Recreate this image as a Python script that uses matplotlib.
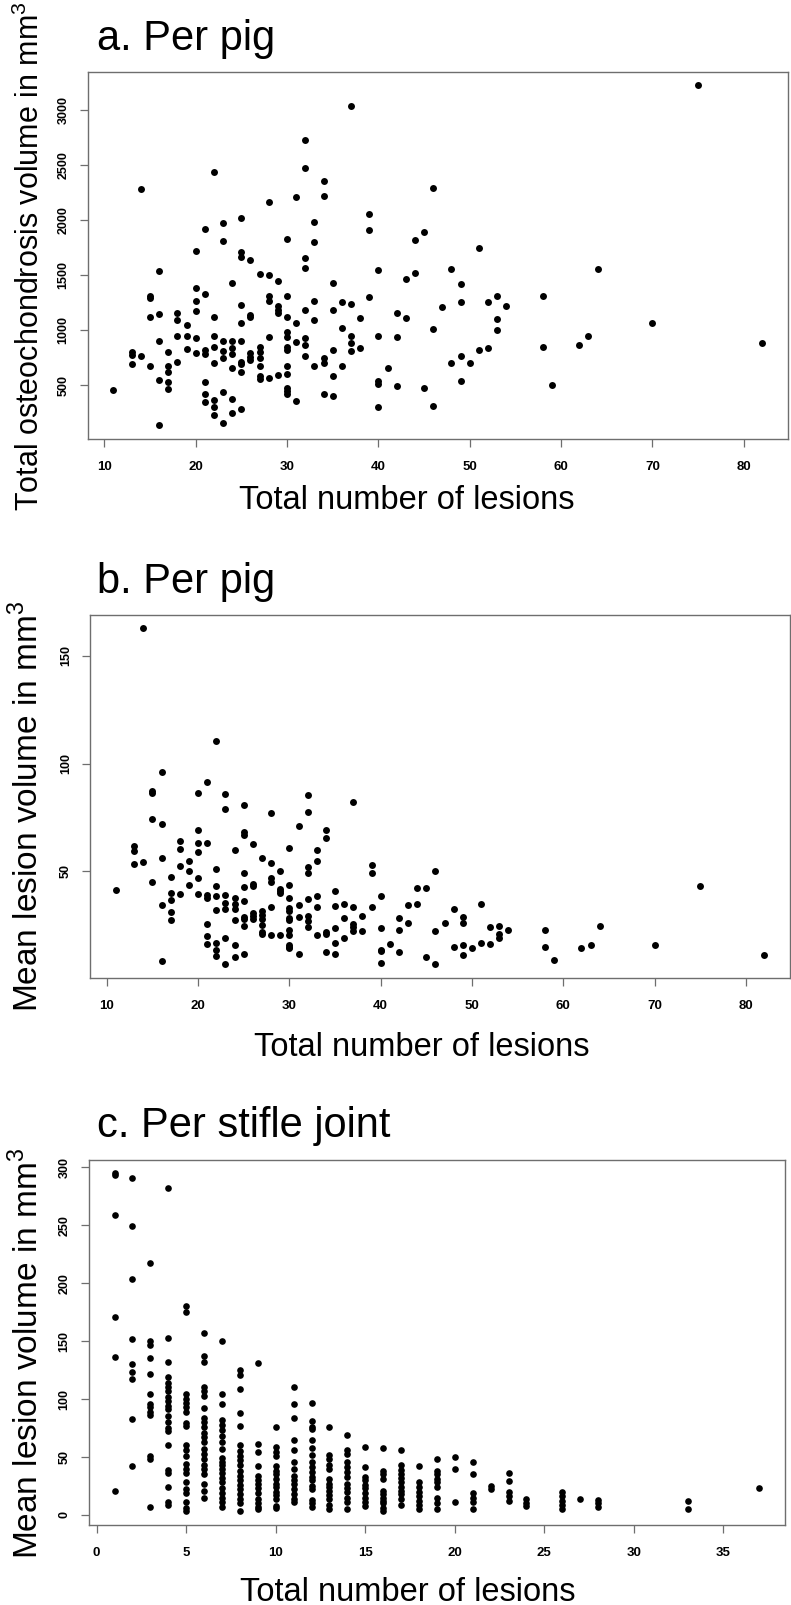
import matplotlib
matplotlib.use("Agg")
import matplotlib.pyplot as plt
import numpy as np

plt.rcParams['font.family'] = ['Liberation Sans', 'DejaVu Sans']
plt.rcParams['mathtext.fontset'] = 'custom'
plt.rcParams['mathtext.rm'] = 'Liberation Sans'

# ---------------- Panel a: per pig, total volume ----------------
a_lesions = [11, 13, 14, 15, 16, 17, 18, 19, 20, 21, 22, 23, 24, 25, 26, 27, 28, 29, 30,
             31, 32, 33, 34, 35, 36, 37, 38, 39, 40, 41, 42, 43, 44, 45, 46, 47, 48, 49,
             50, 51, 52, 53, 54, 58, 59, 62, 63, 64, 70, 75, 82]
a_total = [
    [455], [805, 771, 692], [2279, 761], [1306, 1295, 1115, 677],
    [1537, 1151, 897, 547, 134], [803, 677, 622, 530, 468], [1154, 1088, 947, 706],
    [1043, 950, 830], [1724, 1381, 1262, 1178, 932, 788],
    [1921, 1327, 820, 785, 533, 416, 343], [2436, 1124, 948, 850, 700, 369, 298, 231],
    [1972, 1815, 899, 812, 750, 436, 154], [1430, 902, 834, 780, 653, 372, 245],
    [2018, 1709, 1668, 1230, 1064, 898, 714, 690, 616, 284],
    [1634, 1141, 1120, 794, 754, 726], [1513, 847, 801, 751, 672, 580, 559],
    [2162, 1500, 1312, 1263, 934, 567], [1451, 1215, 1182, 1154, 590],
    [1827, 1312, 1124, 981, 942, 845, 818, 678, 605, 472, 448, 423],
    [2207, 1063, 894, 353], [2732, 2472, 1656, 1566, 1180, 933, 861, 765],
    [1979, 1800, 1266, 1093, 674], [2353, 2216, 746, 703, 419],
    [1433, 1181, 820, 580, 401], [1255, 1021, 674], [3035, 1234, 946, 879, 814],
    [1109, 837], [2055, 1908, 1298], [1545, 947, 534, 510, 298], [656],
    [1154, 935, 495], [1468, 1113], [1821, 1515], [1888, 478], [2294, 1012, 310],
    [1206], [1552, 705], [1415, 1257, 767, 537], [699], [1744, 820], [1257, 841],
    [1307, 1100, 1002], [1216], [1306, 847], [498], [867], [949], [1557], [1067],
    [3226], [880]]

# ---------------- Panel b: per pig, mean lesion volume ----------------
b_lesions = [11, 13, 14, 15, 16, 17, 18, 19, 20, 21, 22, 23, 24, 25, 26, 27, 28, 29, 30,
             31, 32, 33, 34, 35, 36, 37, 38, 39, 40, 41, 42, 43, 44, 45, 46, 47, 48, 49,
             50, 51, 52, 53, 54, 58, 59, 62, 63, 64, 70, 75, 82]
b_mean = [
    [41.4], [61.9, 59.3, 53.2], [162.8, 54.4], [87.1, 86.3, 74.3, 45.1],
    [96.1, 71.9, 56.1, 34.2, 8.4], [47.2, 39.8, 36.6, 31.2, 27.5],
    [64.1, 60.4, 52.6, 39.2], [54.9, 50.0, 43.7],
    [86.2, 69.1, 63.1, 58.9, 46.6, 39.4], [91.5, 63.2, 39.0, 37.4, 25.4, 19.8, 16.3],
    [110.7, 51.1, 43.1, 38.6, 31.8, 16.8, 13.5, 10.5],
    [85.7, 78.9, 39.1, 35.3, 32.6, 19.0, 6.7], [59.6, 37.6, 34.8, 32.5, 27.2, 15.5, 10.2],
    [80.7, 68.4, 66.7, 49.2, 42.6, 35.9, 28.6, 27.6, 24.6, 11.4],
    [62.8, 43.9, 43.1, 30.5, 29.0, 27.9], [56.0, 31.4, 29.7, 27.8, 24.9, 21.5, 20.7],
    [77.2, 53.6, 46.9, 45.1, 33.4, 20.3], [50.0, 41.9, 40.8, 39.8, 20.3],
    [60.9, 43.7, 37.5, 32.7, 31.4, 28.2, 27.3, 22.6, 20.2, 15.7, 14.9, 14.1],
    [71.2, 34.3, 28.8, 11.4], [85.4, 77.3, 51.8, 48.9, 36.9, 29.2, 26.9, 23.9],
    [60.0, 54.5, 38.4, 33.1, 20.4], [69.2, 65.2, 21.9, 20.7, 12.3],
    [40.9, 33.7, 23.4, 16.6, 11.5], [34.9, 28.4, 18.7], [82.0, 33.4, 25.6, 23.8, 22.0],
    [29.2, 22.0], [52.7, 48.9, 33.3], [38.6, 23.7, 13.4, 12.8, 7.5], [16.0],
    [28.0, 22.8, 12.3], [34.1, 25.9], [42.0, 34.6], [42.3, 10.3], [49.9, 22.0, 6.7],
    [25.7], [32.3, 14.7], [28.9, 25.7, 15.7, 11.0], [14.4], [34.5, 16.5], [24.2, 16.2],
    [24.7, 20.8, 18.9], [22.5], [22.5, 14.6], [8.6], [14.4], [15.5], [24.3], [15.6],
    [43.0], [11.1]]

# ---------------- Panel c: per stifle joint ----------------
c_lesions = [1, 2, 3, 4, 5, 6, 7, 8, 9, 10, 11, 12, 13, 14, 15, 16, 17, 18, 19, 20,
             21, 22, 23, 24, 26, 27, 28, 33, 37]
c_mean = [
    [295, 293, 259, 171, 136, 21],
    [291, 249, 204, 152, 130, 123, 117, 83, 42],
    [217, 150, 147, 135, 122, 104, 96, 93, 89, 86, 51, 48, 7],
    [282, 153, 132, 119, 114, 110, 107, 102, 98, 94, 91, 85, 80, 75, 72, 60, 39, 36, 24, 11, 9],
    [180, 175, 104, 100, 97, 93, 89, 79, 77, 60, 56, 51, 44, 40, 36, 28, 22, 19, 11, 6, 3],
    [157, 137, 132, 110, 107, 103, 92, 84, 80, 76, 71, 67, 63, 57, 53, 48, 43, 40, 35, 27, 21, 15],
    [150, 104, 96, 82, 78, 73, 68, 63, 57, 49, 46, 43, 40, 36, 32, 28, 23, 19, 15, 11, 7],
    [125, 121, 109, 88, 77, 60, 55, 51, 47, 43, 38, 34, 30, 26, 22, 18, 14, 10, 3],
    [131, 61, 54, 42, 34, 30, 27, 23, 19, 14, 10, 7, 5],
    [76, 59, 54, 51, 42, 38, 35, 31, 27, 24, 20, 17, 14, 8, 6],
    [110, 96, 84, 65, 56, 46, 40, 34, 30, 27, 22, 18, 14, 11],
    [97, 81, 76, 74, 65, 58, 52, 46, 41, 37, 33, 30, 25, 22, 13, 10, 7],
    [76, 52, 48, 43, 40, 31, 27, 24, 21, 17, 14, 9, 5],
    [69, 56, 53, 46, 41, 37, 33, 27, 23, 20, 15, 11, 5],
    [59, 41, 33, 30, 26, 23, 19, 15, 11, 8],
    [58, 38, 35, 31, 21, 18, 15, 12, 10, 6, 3],
    [56, 43, 39, 35, 32, 28, 24, 21, 18, 14, 9],
    [42, 28, 24, 20, 16, 12, 9, 5],
    [48, 38, 35, 31, 28, 24, 15, 10, 5],
    [50, 40, 11],
    [46, 35, 19, 15, 11, 5],
    [25, 22],
    [36, 29, 20, 16, 12],
    [14, 10, 8],
    [20, 16, 12, 9, 5],
    [14],
    [13, 10, 7],
    [12, 5],
    [23]]

a_xticks = [10, 20, 30, 40, 50, 60, 70, 80]
a_yticks = [500, 1000, 1500, 2000, 2500, 3000]
b_yticks = [50, 100, 150]
c_xticks = [0, 5, 10, 15, 20, 25, 30, 35]
c_yticks = [0, 50, 100, 150, 200, 250, 300]

titles = ["a. Per pig", "b. Per pig", "c. Per stifle joint"]
xlabel = "Total number of lesions"
ylabels = [r"Total osteochondrosis volume in mm$^{\mathregular{3}}$",
           r"Mean lesion volume in mm$^{\mathregular{3}}$",
           r"Mean lesion volume in mm$^{\mathregular{3}}$"]


def flatten(xs, ys):
    xx, yy = [], []
    for x, col in zip(xs, ys):
        for v in col:
            xx.append(x)
            yy.append(v)
    return np.array(xx, float), np.array(yy, float)


W, H = 791, 1605
fig = plt.figure(figsize=(W / 100, H / 100), dpi=100)


def fx(px):
    return px / W


def fy(py):
    return 1 - py / H


def make_axes(left, top, right, bottom):
    return fig.add_axes([fx(left), fy(bottom), (right - left) / W, (bottom - top) / H])


def r_limits(v):
    lo, hi = v.min(), v.max()
    pad = 0.04 * (hi - lo)
    return lo - pad, hi + pad


spine_col = '#6e6e6e'
panels = [
    dict(box=(87.5, 71.7, 788, 439), data=flatten(a_lesions, a_total), xt=a_xticks, yt=a_yticks,
         title_y=50, xl=(407, 509), yl=(30, 256, 22), s=25),
    dict(box=(90, 615, 790, 977.7), data=flatten(b_lesions, b_mean), xt=a_xticks, yt=b_yticks,
         title_y=593, xl=(422, 1056), yl=(28, 806, 24), s=25),
    dict(box=(88.8, 1159.5, 785, 1525), data=flatten(c_lesions, c_mean), xt=c_xticks, yt=c_yticks,
         title_y=1137, xl=(408, 1601), yl=(28, 1353, 24), s=23),
]

for i, p in enumerate(panels):
    ax = make_axes(*p['box'])
    x, y = p['data']
    ax.scatter(x, y, s=p['s'], c='black', marker='o', linewidths=0)
    ax.set_xlim(*r_limits(x))
    ax.set_ylim(*r_limits(y))
    ax.set_xticks(p['xt'])
    ax.set_yticks(p['yt'])
    for sp in ax.spines.values():
        sp.set_color(spine_col)
        sp.set_linewidth(1.0)
    ax.tick_params(axis='both', direction='out', length=6, width=0.9, color=spine_col)
    ax.tick_params(axis='x', pad=10, labelsize=9.5)
    ax.tick_params(axis='y', pad=7, labelsize=9)
    for lab in ax.get_xticklabels():
        lab.set_fontweight('bold')
    for lab in ax.get_yticklabels():
        lab.set_fontweight('bold')
        lab.set_rotation(90)
        lab.set_va('center')
    fig.text(fx(97), fy(p['title_y']), titles[i], fontsize=30, ha='left', va='baseline')
    fig.text(fx(p['xl'][0]), fy(p['xl'][1]), xlabel, fontsize=23.5, ha='center', va='baseline')
    fig.text(fx(p['yl'][0]), fy(p['yl'][1]), ylabels[i], fontsize=p['yl'][2], rotation=90,
             ha='center', va='center')

fig.savefig("out.png", dpi=100)
